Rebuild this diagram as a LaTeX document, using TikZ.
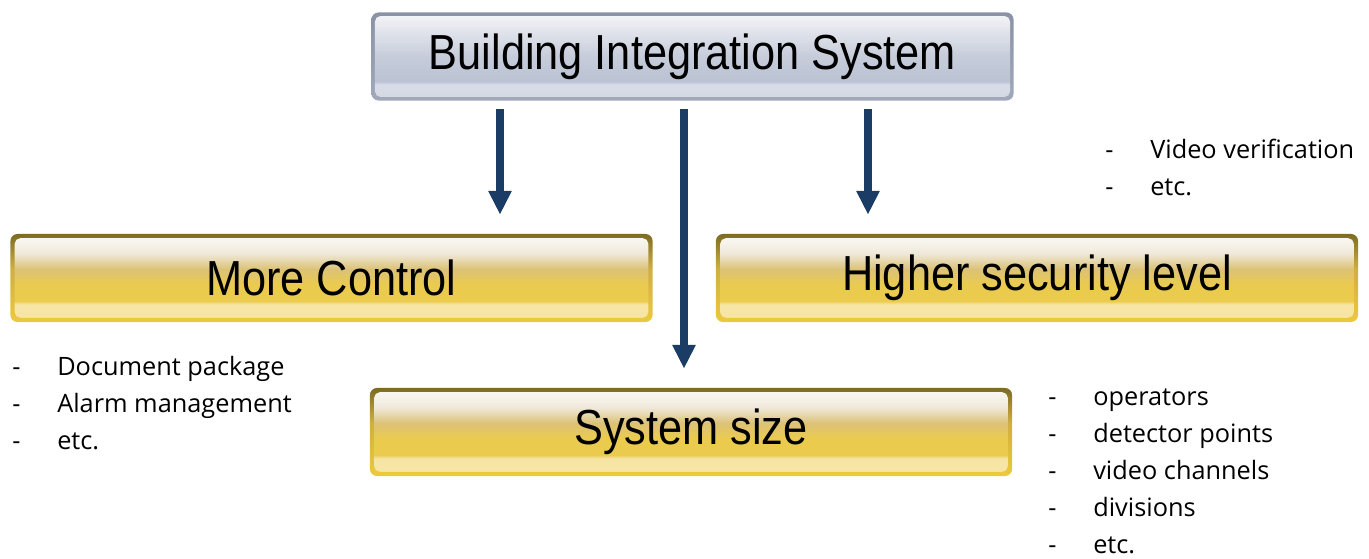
\documentclass[tikz,border=0pt]{standalone}
\usepackage{fontspec}
\usetikzlibrary{arrows.meta}

\newfontfamily\boxfont[FakeStretch=0.88]{Liberation Sans}
\newfontfamily\listfont{Open Sans}

\definecolor{arrowblue}{HTML}{1B3C64}
\definecolor{goldframetop}{HTML}{7C6B22}
\definecolor{goldframemid}{HTML}{CFB040}
\definecolor{goldframebot}{HTML}{EDC93C}
\definecolor{bluefametop}{HTML}{8A93A6}
\definecolor{bluefamebot}{HTML}{A0A8B9}
\definecolor{Fa}{HTML}{F3DC8C}
\definecolor{Fb}{HTML}{F6E5A4}
\definecolor{Fc}{HTML}{EBCB4E}
\definecolor{Fd}{HTML}{DCC276}
\definecolor{Fe}{HTML}{EFE9DA}
\definecolor{Ff}{HTML}{FCFBF8}
\definecolor{Ba}{HTML}{D2D7E3}
\definecolor{Bb}{HTML}{D8DDE8}
\definecolor{Bc}{HTML}{BAC2D3}
\definecolor{Bd}{HTML}{C6CCDA}
\definecolor{Be}{HTML}{E2E5EC}
\definecolor{Bf}{HTML}{F6F7F9}

\pgfdeclareverticalshading{goldframe}{100bp}{color(0bp)=(goldframebot); color(25bp)=(goldframebot); color(55bp)=(goldframemid); color(75bp)=(goldframetop); color(100bp)=(goldframetop)}
\pgfdeclareverticalshading{goldinner}{100bp}{color(0bp)=(Fa); color(25bp)=(Fa); color(29bp)=(Fb); color(35bp)=(Fb); color(37bp)=(Fc); color(46bp)=(Fc); color(55bp)=(Fd); color(64bp)=(Fe); color(75bp)=(Ff); color(100bp)=(Ff)}
\pgfdeclareverticalshading{blueframe}{100bp}{color(0bp)=(bluefamebot); color(25bp)=(bluefamebot); color(75bp)=(bluefametop); color(100bp)=(bluefametop)}
\pgfdeclareverticalshading{blueinner}{100bp}{color(0bp)=(Ba); color(25bp)=(Ba); color(34bp)=(Bb); color(36bp)=(Bc); color(50bp)=(Bd); color(65bp)=(Be); color(75bp)=(Bf); color(100bp)=(Bf)}

\newcommand{\itemlist}[1]{\begin{tabular}[t]{@{}p{1.125cm}@{}l@{}}#1\end{tabular}}

\tikzset{
	box/.style={rounded corners=5pt, minimum width=16.05cm, minimum height=2.2cm, inner sep=0pt, shade,
		font=\boxfont\fontsize{35}{40}\selectfont},
	goldbox/.style={box, shading=goldframe,
		path picture={\shade[shading=goldinner, rounded corners=4pt] ([shift={(3pt,-3pt)}]path picture bounding box.north west) rectangle ([shift={(-3pt,3pt)}]path picture bounding box.south east);}},
	bluebox/.style={box, shading=blueframe,
		path picture={\shade[shading=blueinner, rounded corners=4pt] ([shift={(2.5pt,-2.5pt)}]path picture bounding box.north west) rectangle ([shift={(-2.5pt,2.5pt)}]path picture bounding box.south east);}},
	flow/.style={arrowblue, line width=5.7pt, -{Triangle[length=17pt, width=15.6pt]}, shorten <=5.7pt, shorten >=13.5pt},
	listtext/.style={anchor=base west, inner sep=0pt, font=\listfont\fontsize{18}{26.4}\selectfont}
}

\begin{document}
\begin{tikzpicture}[x=0.025cm, y=-0.025cm]
	\useasboundingbox (0,0) rectangle (1369,559);

	\node[bluebox] (BIS) at (692.5,56.5) {Building Integration System};
	\node[goldbox] (MC) at (331.5,278) {More Control};
	\node[goldbox] (HS) at (1037,278) {Higher security level};
	\node[goldbox] (SS) at (691,432) {System size};

	\draw[flow] (BIS.south -| 500,0) -- (MC.north -| 500,0);
	\draw[flow] (BIS.south -| 684,0) -- (SS.north -| 684,0);
	\draw[flow] (BIS.south -| 868,0) -- (HS.north -| 868,0);

	\node[listtext] (MClist) at (12,375) {\itemlist{- & Document package\\ - & Alarm management\\ - & etc.}};
	\node[listtext] (HSlist) at (1105,158) {\itemlist{- & Video verification\\ - & etc.}};
	\node[listtext] (SSlist) at (1048,405) {\itemlist{- & operators\\ - & detector points\\ - & video channels\\ - & divisions\\ - & etc.}};
\end{tikzpicture}
\end{document}
